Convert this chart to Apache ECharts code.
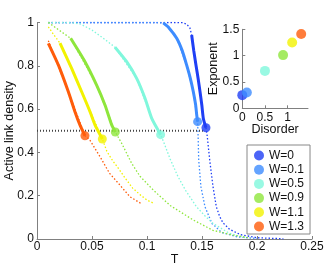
<!DOCTYPE html>
<html>
<head>
<meta charset="utf-8">
<script src="https://cdn.jsdelivr.net/npm/echarts@6/dist/echarts.min.js"></script>
<style>html,body{margin:0;padding:0;background:#fff}#c{width:327px;height:269px}</style>
</head>
<body>
<div id="c"></div>
<script>
const wLabels = ['W=0', 'W=0.1', 'W=0.5', 'W=0.9', 'W=1.1', 'W=1.3'];
const disorder = [0, 0.1, 0.5, 0.9, 1.1, 1.3];
const exponent = [0.25, 0.30, 0.71, 1.01, 1.25, 1.41];
const palette = ['#1f3ff5', '#3d8cff', '#80f7dc', '#8ee63c', '#f2f200', '#ff5c0a'];

// theory curves (dotted), one per W
const theory0 = [[0.01,1],[0.03,1],[0.05,1],[0.07,1],[0.09,1],[0.11,1],[0.125,1],[0.132,0.999],[0.136,0.993],[0.139,0.975],[0.1406,0.942],[0.1445,0.804],[0.1482,0.68],[0.1512,0.557],[0.1536,0.514],[0.1548,0.473],[0.157,0.365],[0.160,0.242],[0.163,0.149],[0.166,0.105],[0.169,0.075],[0.175,0.045],[0.185,0.02],[0.2,0.006],[0.224,0.001]];
const theory1 = [[0.01,1],[0.05,1],[0.09,1],[0.108,1],[0.1148,0.998],[0.12,0.975],[0.127,0.927],[0.136,0.804],[0.1421,0.68],[0.146,0.542],[0.1465,0.47],[0.147,0.365],[0.149,0.242],[0.1527,0.149],[0.159,0.072],[0.168,0.03],[0.182,0.01],[0.2,0.002]];
const theory5 = [[0.01,1],[0.025,1],[0.033,0.998],[0.04,0.992],[0.05,0.965],[0.0603,0.927],[0.0709,0.886],[0.0906,0.742],[0.1043,0.557],[0.1124,0.482],[0.115,0.45],[0.121,0.37],[0.128,0.29],[0.135,0.225],[0.145,0.149],[0.153,0.105],[0.160,0.072],[0.175,0.026],[0.19,0.005]];
const theory9 = [[0.0103,1.0],[0.02,0.965],[0.0306,0.927],[0.0542,0.711],[0.0712,0.494],[0.077,0.442],[0.086,0.35],[0.0936,0.29],[0.1057,0.226],[0.121,0.155],[0.142,0.088],[0.16,0.04],[0.178,0.018],[0.194,0.005]];
const theory11 = [[0.0103,0.98],[0.015,0.945],[0.0209,0.905],[0.0406,0.68],[0.0594,0.462],[0.0635,0.405],[0.069,0.36],[0.0735,0.33],[0.08,0.282],[0.087,0.235],[0.0936,0.205],[0.1,0.18],[0.106,0.165]];
const theory13 = [[0.0103,0.916],[0.0285,0.68],[0.0436,0.477],[0.048,0.457],[0.0573,0.38],[0.066,0.303],[0.074,0.257],[0.0845,0.195],[0.0952,0.162]];

// simulation curves (thick), one per W
const sim0 = [[0.1406,0.942],[0.1425,0.87],[0.1445,0.804],[0.1465,0.74],[0.1482,0.68],[0.1498,0.62],[0.1512,0.557],[0.1536,0.514]];
const sim1 = [[0.1148,0.998],[0.12,0.975],[0.127,0.927],[0.132,0.87],[0.136,0.804],[0.1395,0.74],[0.1421,0.68],[0.1442,0.62],[0.1452,0.573],[0.146,0.542]];
const sim5 = [[0.0709,0.886],[0.0815,0.819],[0.0906,0.742],[0.0982,0.65],[0.1043,0.557],[0.1124,0.482]];
const sim9 = [[0.0306,0.927],[0.0436,0.819],[0.0542,0.711],[0.0618,0.619],[0.0679,0.527],[0.0712,0.494]];
const sim11 = [[0.0209,0.905],[0.0315,0.788],[0.0406,0.68],[0.0482,0.588],[0.0527,0.527],[0.0594,0.462]];
const sim13 = [[0.0103,0.904],[0.0194,0.804],[0.0285,0.68],[0.0345,0.588],[0.039,0.527],[0.0436,0.477]];

// critical points (end markers)
const critT = [0.1536, 0.146, 0.1124, 0.0712, 0.0594, 0.0436];
const critY = [0.514, 0.542, 0.482, 0.494, 0.462, 0.477];

// reference line
const refLine = [[0, 0.5], [0.151, 0.5]];

const theories = [theory0, theory1, theory5, theory9, theory11, theory13];
const sims = [sim0, sim1, sim5, sim9, sim11, sim13];

const font = 'Liberation Sans, Arial, Helvetica, sans-serif';
const series = [];
series.push({type:'line', xAxisIndex:0, yAxisIndex:0, data:refLine, showSymbol:false, silent:true,
  lineStyle:{color:'#444', width:2, type:[1,2]}, z:1});
for (let i = 0; i < wLabels.length; i++) {
  series.push({type:'line', name:'t'+i, xAxisIndex:0, yAxisIndex:0, data:theories[i], showSymbol:false, smooth:false,
    lineStyle:{color:palette[i], width:1.3, type:[1.5,2]}, z:2});
}
for (let i = 0; i < wLabels.length; i++) {
  series.push({type:'line', name:'s'+i, xAxisIndex:0, yAxisIndex:0, data:sims[i], showSymbol:false, smooth:0.2,
    lineStyle:{color:palette[i], width:3}, z:3});
}
for (let i = 0; i < wLabels.length; i++) {
  series.push({type:'scatter', name:wLabels[i], xAxisIndex:0, yAxisIndex:0, data:[[critT[i], critY[i]]],
    symbolSize:9, itemStyle:{color:palette[i]}, z:4});
}
series.push({type:'scatter', xAxisIndex:1, yAxisIndex:1,
  data: disorder.map((d, i) => ({value:[d, exponent[i]], itemStyle:{color:palette[i]}})),
  symbolSize:10, z:4});

const axisCommon = {
  axisLine:{show:true, lineStyle:{color:'#808080', width:1}},
  axisTick:{show:true, inside:true, length:3, lineStyle:{color:'#808080'}},
  splitLine:{show:false},
  axisLabel:{color:'#111', fontSize:12, fontFamily:font, hideOverlap:false},
  nameTextStyle:{color:'#111', fontSize:12.5, fontFamily:font},
  nameMoveOverlap:false
};

const option = {
  animation:false,
  backgroundColor:'#fff',
  grid:[
    {left:37, top:22.5, width:275, height:216.5, containLabel:false, outerBoundsMode:'none'},
    {left:242.3, top:29.3, width:65.7, height:79, containLabel:false, outerBoundsMode:'none'}
  ],
  xAxis:[
    Object.assign({}, axisCommon, {gridIndex:0, type:'value', min:0, max:0.25, interval:0.05,
      name:'T', nameLocation:'middle', nameGap:14, axisLabel:Object.assign({}, axisCommon.axisLabel, {margin:2})}),
    Object.assign({}, axisCommon, {gridIndex:1, type:'value', min:0, max:1.45, interval:0.5,
      name:'Disorder', nameLocation:'middle', nameGap:15, axisLabel:Object.assign({}, axisCommon.axisLabel, {margin:3, showMaxLabel:false})})
  ],
  yAxis:[
    Object.assign({}, axisCommon, {gridIndex:0, type:'value', min:0, max:1, interval:0.2,
      name:'Active link density', nameLocation:'middle', nameGap:21, nameRotate:90, axisLabel:Object.assign({}, axisCommon.axisLabel, {margin:3})}),
    Object.assign({}, axisCommon, {gridIndex:1, type:'value', min:0, max:1.5, interval:0.5,
      name:'Exponent', nameLocation:'middle', nameGap:22, nameRotate:90, axisLabel:Object.assign({}, axisCommon.axisLabel, {margin:3})})
  ],
  legend:{
    data: wLabels.map(n => ({name:n, icon:'circle'})),
    orient:'vertical', left:247, top:145,
    padding:[4,6,1,7], itemWidth:10, itemHeight:10, itemGap:1.2,
    borderColor:'#888', borderWidth:1, backgroundColor:'#fff',
    textStyle:{color:'#111', fontSize:12, fontFamily:font, lineHeight:13}
  },
  series: series
};
echarts.init(document.getElementById('c'), null, {renderer:'canvas'}).setOption(option);
</script>
</body>
</html>
